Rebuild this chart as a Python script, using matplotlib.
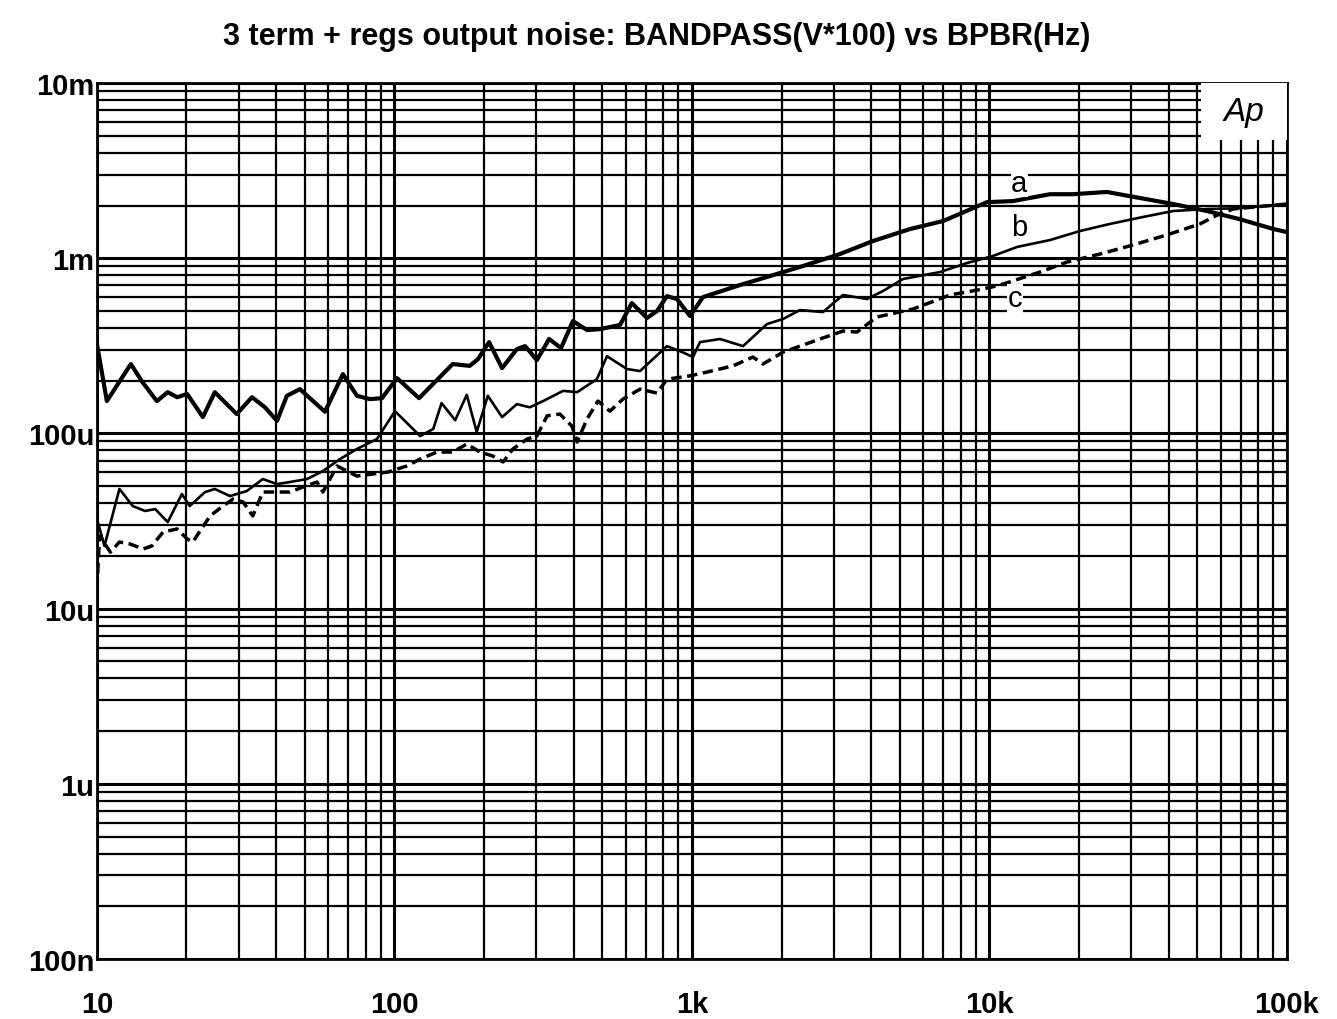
import numpy as np
import matplotlib.pyplot as plt
from matplotlib.patches import Rectangle
from matplotlib.ticker import FixedLocator, LogLocator, NullFormatter

# curve a: thick solid
freq_a = [10, 10.8, 13.0, 14.2, 15.9, 17.3, 18.6, 20.1, 22.7, 24.9, 29.5, 33.2, 36.7,
          40.3, 43.5, 48.1, 58.4, 67.1, 74.8, 82.7, 90.8, 102, 121, 157, 179, 191, 208,
          230, 258, 275, 301, 331, 363, 398, 444, 491, 573, 628, 706, 763, 824, 890, 985,
          1089, 1450, 1829, 2361, 3144, 4059, 5406, 6978, 9808, 12000, 15970, 19090,
          24830, 29670, 41390, 53830, 69500, 89760, 100000]
volt_a = [3.24e-4, 1.53e-4, 2.49e-4, 1.97e-4, 1.53e-4, 1.72e-4, 1.61e-4, 1.68e-4, 1.24e-4,
          1.72e-4, 1.29e-4, 1.61e-4, 1.41e-4, 1.18e-4, 1.64e-4, 1.79e-4, 1.33e-4, 2.18e-4,
          1.64e-4, 1.57e-4, 1.59e-4, 2.07e-4, 1.59e-4, 2.49e-4, 2.43e-4, 2.66e-4, 3.32e-4,
          2.36e-4, 3.03e-4, 3.15e-4, 2.62e-4, 3.46e-4, 3.07e-4, 4.38e-4, 3.89e-4, 3.94e-4,
          4.16e-4, 5.55e-4, 4.56e-4, 5.00e-4, 6.08e-4, 5.85e-4, 4.68e-4, 6.00e-4, 7.03e-4,
          7.91e-4, 9.03e-4, 1.057e-3, 1.254e-3, 1.468e-3, 1.63e-3, 2.09e-3, 2.12e-3,
          2.32e-3, 2.32e-3, 2.39e-3, 2.26e-3, 2.04e-3, 1.86e-3, 1.67e-3, 1.47e-3, 1.41e-3]

# curve b: thin solid
freq_b = [10, 10.6, 11.9, 13.2, 14.5, 15.7, 17.3, 19.3, 20.5, 23.1, 24.9, 28.0, 31.9,
          36.1, 40.3, 44.5, 50.8, 57.5, 65.6, 74.8, 87.3, 100.4, 122, 135, 144, 160, 175,
          189, 206, 230, 258, 285, 316, 369, 411, 479, 518, 605, 669, 824, 929, 1008,
          1064, 1242, 1484, 1787, 2023, 2307, 2756, 3218, 3874, 4385, 5120, 6818, 8402,
          10270, 12380, 15970, 20150, 25410, 32810, 41390, 53830, 69500, 89760, 100000]
volt_b = [3.25e-5, 2.28e-5, 4.82e-5, 3.85e-5, 3.61e-5, 3.70e-5, 3.12e-5, 4.51e-5, 3.85e-5,
          4.63e-5, 4.82e-5, 4.39e-5, 4.69e-5, 5.49e-5, 5.14e-5, 5.28e-5, 5.49e-5, 6.10e-5,
          7.14e-5, 8.15e-5, 9.29e-5, 1.34e-4, 9.66e-5, 1.06e-4, 1.49e-4, 1.19e-4, 1.66e-4,
          1.02e-4, 1.64e-4, 1.24e-4, 1.47e-4, 1.41e-4, 1.53e-4, 1.75e-4, 1.72e-4, 2.04e-4,
          2.76e-4, 2.33e-4, 2.27e-4, 3.15e-4, 2.91e-4, 2.73e-4, 3.32e-4, 3.46e-4, 3.15e-4,
          4.21e-4, 4.50e-4, 5.06e-4, 4.93e-4, 6.17e-4, 5.85e-4, 6.50e-4, 7.61e-4, 8.34e-4,
          9.39e-4, 1.03e-3, 1.16e-3, 1.27e-3, 1.43e-3, 1.57e-3, 1.72e-3, 1.86e-3, 1.91e-3,
          1.93e-3, 2.01e-3, 2.04e-3]

# curve c: dashed
freq_c = [10, 10.2, 11.1, 11.9, 12.9, 14.3, 15.3, 16.7, 18.6, 20.1, 21.0, 22.2, 24.0,
          26.5, 28.7, 31.0, 33.4, 36.1, 40.3, 44.5, 49.2, 54.9, 57.5, 64.1, 74.8, 84.7,
          95.1, 110, 122, 139, 157, 175, 194, 214, 232, 250, 279, 301, 326, 360, 395, 411,
          444, 483, 530, 586, 669, 763, 824, 981, 1123, 1373, 1603, 1733, 2023, 2307,
          2694, 3218, 3586, 4186, 5534, 7366, 9510, 10850, 14780, 18220, 23520, 30370,
          39520, 51010, 58170, 65850, 85660, 100000]
volt_c = [1.29e-5, 2.60e-5, 2.10e-5, 2.40e-5, 2.34e-5, 2.19e-5, 2.28e-5, 2.74e-5, 2.85e-5,
          2.50e-5, 2.40e-5, 2.77e-5, 3.38e-5, 3.85e-5, 4.22e-5, 4.06e-5, 3.38e-5, 4.63e-5,
          4.63e-5, 4.63e-5, 4.94e-5, 5.28e-5, 4.63e-5, 6.52e-5, 5.71e-5, 5.87e-5, 6.02e-5,
          6.52e-5, 7.14e-5, 7.83e-5, 7.83e-5, 8.70e-5, 7.83e-5, 7.43e-5, 6.87e-5, 8.15e-5,
          9.29e-5, 9.66e-5, 1.26e-4, 1.29e-4, 1.10e-4, 8.93e-5, 1.21e-4, 1.53e-4, 1.34e-4,
          1.57e-4, 1.79e-4, 1.70e-4, 2.04e-4, 2.13e-4, 2.24e-4, 2.43e-4, 2.73e-4, 2.49e-4,
          2.91e-4, 3.15e-4, 3.46e-4, 3.84e-4, 3.79e-4, 4.62e-4, 5.13e-4, 6.17e-4, 6.67e-4,
          7.03e-4, 8.34e-4, 9.51e-4, 1.057e-3, 1.19e-3, 1.36e-3, 1.57e-3, 1.76e-3, 1.91e-3,
          1.99e-3, 2.04e-3]

x_ticks = [10, 100, 1000, 10000, 100000]
x_labels = ["10", "100", "1k", "10k", "100k"]
y_ticks = [1e-7, 1e-6, 1e-5, 1e-4, 1e-3, 1e-2]
y_labels = ["100n", "1u", "10u", "100u", "1m", "10m"]

plt.rcParams["font.family"] = ["Liberation Sans", "DejaVu Sans"]

fig = plt.figure(figsize=(13.37, 10.20), dpi=100)
ax = fig.add_axes([0.0725, 0.0588, 0.8901, 0.8588])

ax.set_xscale("log")
ax.set_yscale("log")
ax.set_xlim(10, 100000)
ax.set_ylim(1e-7, 1e-2)

ax.xaxis.set_major_locator(FixedLocator(x_ticks))
ax.yaxis.set_major_locator(FixedLocator(y_ticks))
ax.xaxis.set_minor_locator(LogLocator(base=10, subs=np.arange(2, 10)))
ax.yaxis.set_minor_locator(LogLocator(base=10, subs=np.arange(2, 10)))
ax.xaxis.set_minor_formatter(NullFormatter())
ax.yaxis.set_minor_formatter(NullFormatter())
ax.set_xticklabels(x_labels, fontsize=21, fontweight="bold")
ax.set_yticklabels(y_labels, fontsize=21, fontweight="bold")
ax.tick_params(which="both", length=0)
ax.tick_params(axis="x", pad=22)
ax.tick_params(axis="y", pad=2)

ax.grid(which="major", color="black", linewidth=2.2)
ax.grid(which="minor", color="black", linewidth=1.6)
ax.set_axisbelow(True)
for s in ax.spines.values():
    s.set_linewidth(2)

ax.plot(freq_a, volt_a, color="black", linewidth=3.0, zorder=3)
ax.plot(freq_b, volt_b, color="black", linewidth=1.9, zorder=3)
ax.plot(freq_c, volt_c, color="black", linewidth=2.5, linestyle=(0, (3, 1.6)), zorder=3)

lbl = dict(fontsize=21, ha="center", va="center", zorder=4,
           bbox=dict(facecolor="white", edgecolor="none", pad=0.5))
ax.text(12600, 2.7e-3, "a", **lbl)
ax.text(12600, 1.5e-3, "b", **lbl)
ax.text(12200, 5.9e-4, "c", **lbl)

# instrument badge in the top-right corner
ax.add_patch(Rectangle((51500, 4.7e-3), 48500, 5.3e-3, facecolor="white",
                       edgecolor="none", zorder=4))
ax.text(72000, 6.9e-3, "Ap", fontsize=24, style="italic", ha="center", va="center",
        zorder=5)

fig.text(0.4915, 0.964, "3 term + regs output noise: BANDPASS(V*100) vs BPBR(Hz)",
         fontsize=22, fontweight="bold", ha="center", va="center")

fig.savefig("out.png", dpi=100, facecolor="white")
